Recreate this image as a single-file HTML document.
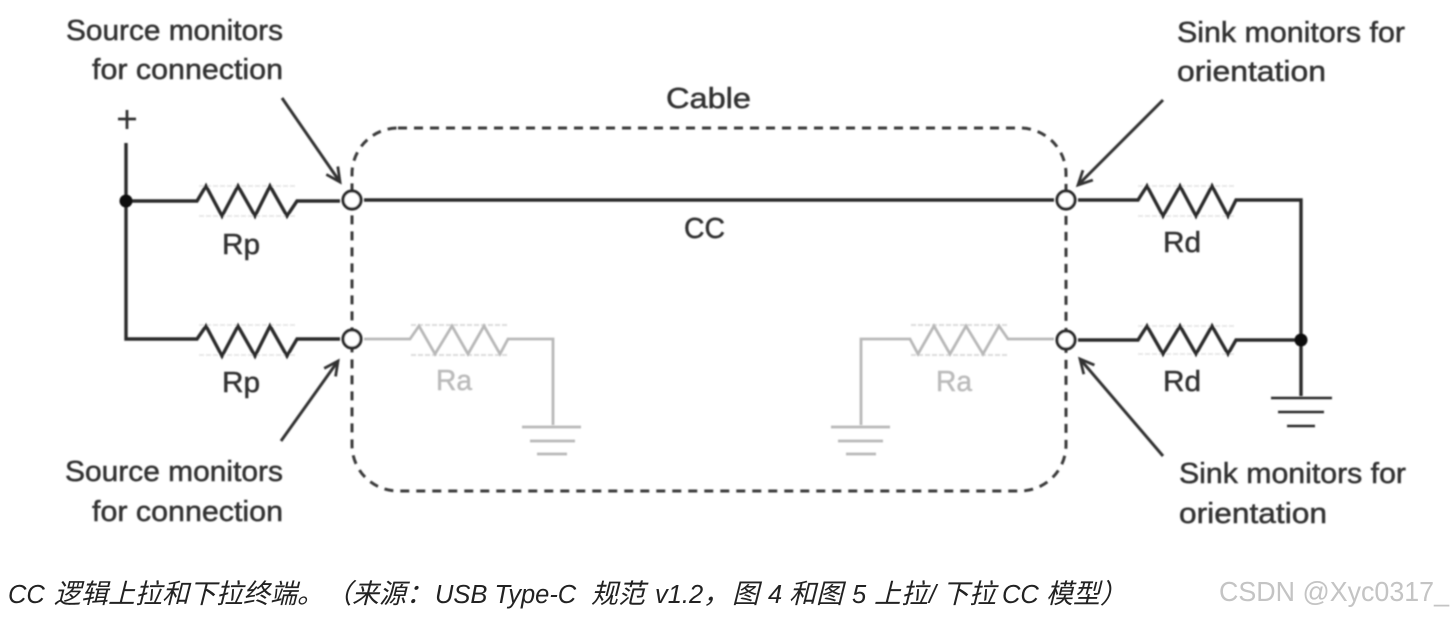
<!DOCTYPE html>
<html><head><meta charset="utf-8"><style>
html,body{margin:0;padding:0;background:#fff}
svg{display:block}
.t{font-family:"Liberation Sans",sans-serif;font-size:29px;fill:#333;stroke:#333;stroke-width:.5}
.g{font-family:"Liberation Sans",sans-serif;font-size:29px;fill:#bbb;stroke:#bbb;stroke-width:.5}
.cap{font-family:"Liberation Sans","Noto Sans CJK SC",sans-serif;font-size:25.5px;font-style:italic;fill:#222}
.cap .c{font-size:27px}
.wm{font-family:"Liberation Sans",sans-serif;font-size:28px;fill:#c4c4c4}
</style></head><body>
<svg width="1453" height="617" viewBox="0 0 1453 617" xmlns="http://www.w3.org/2000/svg">
<defs>
<filter id="b" x="-5%" y="-5%" width="110%" height="110%"><feGaussianBlur stdDeviation="0.8"/></filter>
<marker id="a" markerWidth="24" markerHeight="24" refX="19" refY="10" orient="auto" markerUnits="userSpaceOnUse"><path d="M5 3L19 10L5 17" fill="none" stroke="#333" stroke-width="2.8"/></marker>
</defs>
<g filter="url(#b)">
<g fill="none" stroke="#e8e8e8" stroke-width="2" stroke-dasharray="5 2">
<path d="M199 186H296M199 216H296M199 325H296M199 355H296"/>
<path d="M1138 186H1235M1138 216H1235M1138 326H1235M1138 354H1235"/>
<path d="M411 325H508M411 355H508M911 325H1008M911 355H1008" stroke="#dcdcdc"/>
</g>
<rect x="352" y="128" width="714" height="363" rx="46" fill="none" stroke="#3a3a3a" stroke-width="3" stroke-dasharray="9 7"/>
<g fill="none" stroke="#2c2c2c" stroke-width="3.4">
<path d="M126 143V339H197L206 326L222 356L238 326L255 356L270 326L287 356L297 339H340"/>
<path d="M126 201H197L206 186L222 216L238 186L255 216L270 186L287 216L297 201H340"/>
<path d="M364 200H1054"/>
<path d="M1078 200H1138L1147 186L1163 216L1180 186L1196 216L1212 186L1228 216L1236 200H1301V396"/>
<path d="M1078 340H1138L1147 326L1163 354L1180 326L1196 354L1212 326L1228 354L1236 340H1301"/>
<path d="M1271 398H1332M1278 412H1324M1287 426H1315" stroke-width="2.6"/>
</g>
<g fill="none" stroke="#b8b8b8" stroke-width="2.8">
<path d="M364 339H410L419 326L435 354L452 326L468 354L484 326L500 354L508 339H553V425"/>
<path d="M1054 339H1008L999 326L983 354L966 326L950 354L934 326L918 354L910 339H861V425"/>
<path d="M522 427H581M530 441H575M537 454H567"/>
<path d="M831 427H890M838 441H883M846 454H876"/>
</g>
<g fill="#fff" stroke="#2c2c2c" stroke-width="3.2">
<circle cx="352" cy="200" r="9"/><circle cx="1066" cy="200" r="9"/>
<circle cx="352" cy="339" r="9"/><circle cx="1066" cy="340" r="9"/>
</g>
<circle cx="126" cy="201" r="6.5" fill="#111"/><circle cx="1301" cy="340" r="6.5" fill="#111"/>
<g stroke="#333" stroke-width="3" fill="none">
<path d="M282 98L340 182" marker-end="url(#a)"/>
<path d="M281 441L338 361" marker-end="url(#a)"/>
<path d="M1163 100L1078 185" marker-end="url(#a)"/>
<path d="M1163 456L1080 359" marker-end="url(#a)"/>
</g>
<path d="M118 119H136M127 110V129" stroke="#333" stroke-width="2.8"/>
<g class="t">
<text x="66" y="40" textLength="217" lengthAdjust="spacingAndGlyphs">Source monitors</text>
<text x="92" y="79" textLength="191" lengthAdjust="spacingAndGlyphs">for connection</text>
<text x="1177" y="42" textLength="228" lengthAdjust="spacingAndGlyphs">Sink monitors for</text>
<text x="1177" y="81" textLength="149" lengthAdjust="spacingAndGlyphs">orientation</text>
<text x="666" y="108" textLength="85" lengthAdjust="spacingAndGlyphs">Cable</text>
<text x="684" y="238" textLength="41" lengthAdjust="spacingAndGlyphs">CC</text>
<text x="222" y="254" textLength="38" lengthAdjust="spacingAndGlyphs">Rp</text>
<text x="222" y="392" textLength="38" lengthAdjust="spacingAndGlyphs">Rp</text>
<text x="1163" y="252" textLength="38" lengthAdjust="spacingAndGlyphs">Rd</text>
<text x="1163" y="391" textLength="38" lengthAdjust="spacingAndGlyphs">Rd</text>
<text x="65" y="481" textLength="218" lengthAdjust="spacingAndGlyphs">Source monitors</text>
<text x="92" y="521" textLength="191" lengthAdjust="spacingAndGlyphs">for connection</text>
<text x="1179" y="483" textLength="227" lengthAdjust="spacingAndGlyphs">Sink monitors for</text>
<text x="1179" y="523" textLength="148" lengthAdjust="spacingAndGlyphs">orientation</text>
</g>
<g class="g">
<text x="436" y="390" textLength="36" lengthAdjust="spacingAndGlyphs">Ra</text>
<text x="936" y="391" textLength="36" lengthAdjust="spacingAndGlyphs">Ra</text>
</g>
</g>
<text class="cap" y="603"><tspan x="8">CC</tspan><tspan class="c" x="54">逻辑上拉和下拉终端。</tspan><tspan class="c" x="325">（</tspan><tspan class="c" x="352">来源：</tspan><tspan x="435">USB Type-C</tspan><tspan class="c" x="591">规范</tspan><tspan x="655">v1.2</tspan><tspan class="c" x="703">，</tspan><tspan class="c" x="732">图</tspan><tspan x="768">4</tspan><tspan class="c" x="789">和图</tspan><tspan x="852">5</tspan><tspan class="c" x="874">上拉</tspan><tspan x="929">/</tspan><tspan class="c" x="942">下拉</tspan><tspan x="1002">CC</tspan><tspan class="c" x="1046">模型</tspan><tspan class="c" x="1100">）</tspan></text>
<text class="wm" x="1219" y="601" textLength="230" lengthAdjust="spacingAndGlyphs">CSDN @Xyc0317_</text>
</svg>
</body></html>
